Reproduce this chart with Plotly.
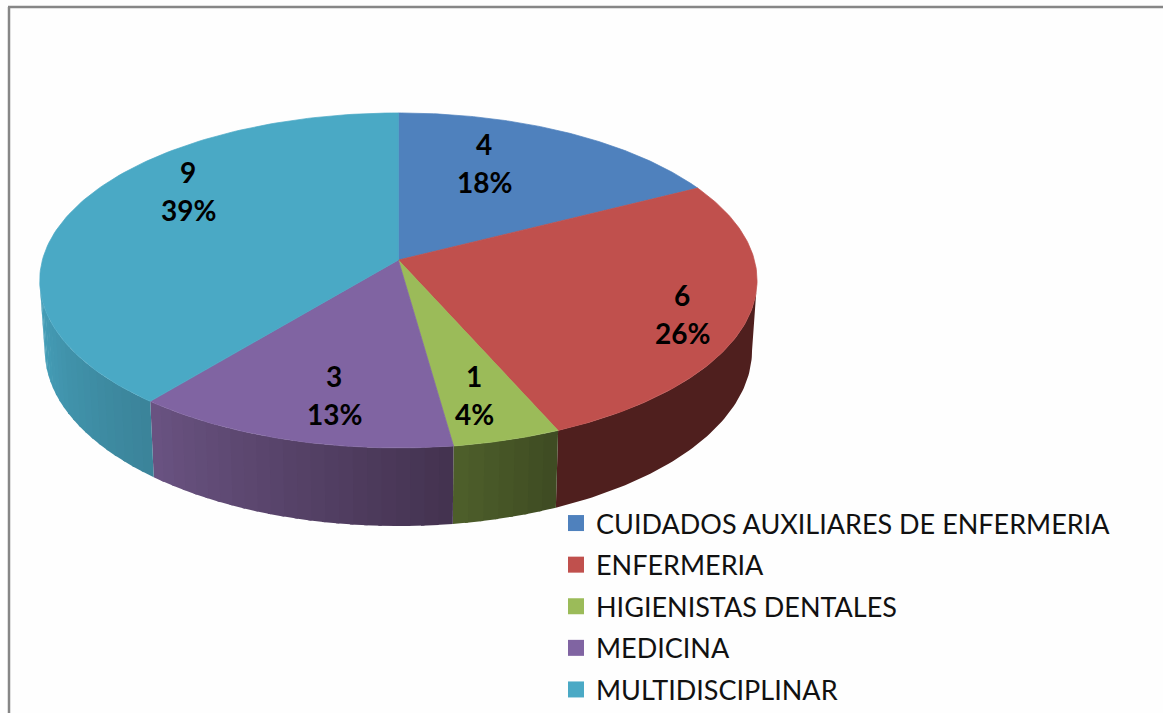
import numpy as np
import plotly.graph_objects as go

categories = ["CUIDADOS AUXILIARES DE ENFERMERIA", "ENFERMERIA", "HIGIENISTAS DENTALES", "MEDICINA", "MULTIDISCIPLINAR"]
values = [4, 6, 1, 3, 9]
percents = ["18%", "26%", "4%", "13%", "39%"]

colors = ["#4f81bd", "#c0504d", "#9bbb59", "#8064a2", "#4aa9c5"]
# wall shade at the start and end of each slice's clockwise arc
wall_start = ["#4f1f1e", "#4f1f1e", "#3e4a22", "#43324f", "#3b8399"]
wall_end = ["#4f1f1e", "#4f1f1e", "#4e602b", "#6a5382", "#46a2bc"]
label_xy = [(484, 163), (682, 314), (474, 395), (334, 395), (188, 191)]

W, H = 1163, 713
K = 0.122
TOP = dict(cx=398.4, cy=260, a=356, b=165)
BOT = dict(cx=398.4, cy=329, a=351, b=173)
VISIBLE = (97, 263)


def project(theta_deg, rho, g):
    t = np.radians(theta_deg)
    u, v = rho * np.sin(t), rho * np.cos(t)
    w = 1 + K * v
    return g["cx"] + g["a"] * u / w, g["cy"] - g["b"] * v / w


def hex_rgb(c):
    return np.array([int(c[i:i + 2], 16) for i in (1, 3, 5)], dtype=float)


def mix(c1, c2, f):
    r = hex_rgb(c1) * (1 - f) + hex_rgb(c2) * f
    return "rgb(%d,%d,%d)" % tuple(r.round())


def poly(x, y, color, width=0.7):
    return go.Scatter(x=list(x), y=list(y), mode="lines", fill="toself", fillcolor=color,
                      line=dict(color=color, width=width), showlegend=False, hoverinfo="skip")


edges = np.concatenate([[0], np.cumsum(values)]) / sum(values) * 360
fig = go.Figure()

# side wall, in narrow shaded strips that overlap a little to hide seams
for i in range(len(values)):
    lo, hi = max(edges[i], VISIBLE[0]), min(edges[i + 1], VISIBLE[1])
    if hi <= lo:
        continue
    n = max(1, int((hi - lo) / 2)) if wall_start[i] != wall_end[i] else 1
    steps = np.linspace(lo, hi, n + 1)
    for j in range(n):
        end = min(steps[j + 1] + 0.5, hi)
        th = np.linspace(steps[j], end, 60 if n == 1 else 6)
        tx, ty = project(th, 1, TOP)
        bx, by = project(th[::-1], 1, BOT)
        f = (j + 0.5) / n
        fig.add_trace(poly(np.r_[tx, bx, tx[0]], np.r_[ty, by, ty[0]], mix(wall_start[i], wall_end[i], f), width=0))

# top faces
for i in range(len(values)):
    th = np.linspace(edges[i], edges[i + 1], 120)
    x, y = project(th, 1, TOP)
    fig.add_trace(poly(np.r_[TOP["cx"], x, TOP["cx"]], np.r_[TOP["cy"], y, TOP["cy"]], colors[i]))

# legend entries
for name, c in zip(categories, colors):
    fig.add_trace(go.Scatter(x=[None], y=[None], mode="markers", name=name, legendgroup=name,
                             marker=dict(symbol="square", size=16, color=c), hoverinfo="skip"))

LABEL_FONT = dict(family="Lato", size=28, color="#000000", weight=700)
annotations = []
for (lx, ly), v, p in zip(label_xy, values, percents):
    annotations.append(dict(x=lx, y=ly - 19, text=str(v), showarrow=False, font=LABEL_FONT, xref="x", yref="y"))
    annotations.append(dict(x=lx, y=ly + 19, text=p, showarrow=False, font=LABEL_FONT, xref="x", yref="y"))

fig.update_layout(
    width=W, height=H, margin=dict(l=0, r=0, t=0, b=0, pad=0, autoexpand=False),
    paper_bgcolor="#fefefe", plot_bgcolor="#fefefe",
    xaxis=dict(range=[0, W], visible=False, fixedrange=True),
    yaxis=dict(range=[H, 0], visible=False, fixedrange=True),
    annotations=annotations,
    legend=dict(x=556 / W, y=1 - 499 / H, xanchor="left", yanchor="top", bgcolor="rgba(0,0,0,0)",
                font=dict(family="Lato", size=27, color="#111111"), tracegroupgap=3.5, itemwidth=30),
    shapes=[
        dict(type="line", xref="x", yref="y", x0=9, x1=9, y0=7, y1=H, line=dict(color="#868686", width=2.5)),
        dict(type="line", xref="x", yref="y", x0=8, x1=W, y0=7, y1=7, line=dict(color="#868686", width=2.5)),
    ],
)
fig.write_html("out.html", config=dict(displayModeBar=False),
               post_script="document.body.style.margin='0';document.documentElement.style.overflow='hidden';")
